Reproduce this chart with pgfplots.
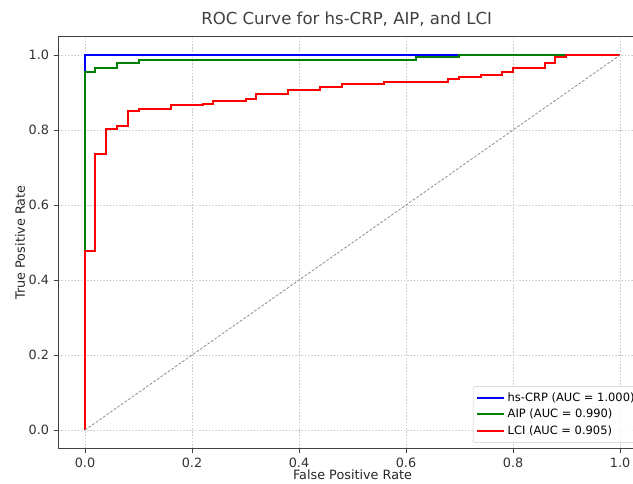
\documentclass[border=0pt]{standalone}
\usepackage{fontspec}
\setmainfont{DejaVu Sans}
\usepackage{pgfplots}
\pgfplotsset{compat=1.18}

% ROC points, one per corner (const plot: horizontal first, then up)
\newcommand{\bluepts}{(0,0) (0,1.0) (1.0,1.0)}
\newcommand{\greenpts}{(0,0) (0,0.954) (0.019,0.966) (0.059,0.979) (0.100,0.988)
  (0.619,0.994) (0.699,1.0) (1.0,1.0)}
\newcommand{\redpts}{(0,0) (0,0.477) (0.019,0.735) (0.039,0.804) (0.060,0.811)
  (0.081,0.852) (0.100,0.857) (0.160,0.866) (0.220,0.870) (0.240,0.877)
  (0.300,0.884) (0.320,0.895) (0.380,0.907) (0.440,0.915) (0.480,0.923)
  (0.559,0.928) (0.679,0.935) (0.699,0.941) (0.740,0.947) (0.780,0.954)
  (0.799,0.966) (0.859,0.979) (0.879,0.995) (0.899,1.0) (1.0,1.0)}

\begin{document}
\begin{tikzpicture}
\begin{axis}[
  at={(0,0)}, anchor=south west,
  width=441.4pt, height=309.4pt, scale only axis,
  xmin=-0.05, xmax=1.05, ymin=-0.05, ymax=1.05,
  xtick={0,0.2,0.4,0.6,0.8,1.0},
  ytick={0,0.2,0.4,0.6,0.8,1.0},
  /pgf/number format/assume math mode=true,
  xticklabel style={/pgf/number format/.cd, fixed, fixed zerofill, precision=1},
  yticklabel style={/pgf/number format/.cd, fixed, fixed zerofill, precision=1},
  tick label style={font=\fontsize{9.6}{11}\selectfont, text=black!80},
  tick align=outside, major tick length=3.4pt,
  tick style={black!75, line width=0.6pt},
  xtick pos=bottom, ytick pos=left,
  axis line style={black!75, line width=0.6pt},
  grid=major,
  grid style={black!20, line width=0.5pt, dash pattern=on 1.2pt off 1.2pt},
  title={ROC Curve for hs-CRP, AIP, and LCI},
  title style={font=\fontsize{12.4}{15}\selectfont, text=black!75,
    at={(axis description cs:0.49,1)}, anchor=base, yshift=3pt},
  xlabel={False Positive Rate},
  ylabel={True Positive Rate},
  xlabel style={font=\fontsize{9.6}{11}\selectfont, text=black!85,
    at={(axis description cs:0.5,-0.063)}, anchor=center},
  ylabel style={font=\fontsize{9.6}{11}\selectfont, text=black!85,
    at={(axis description cs:-0.065,0.5)}, anchor=center},
  legend style={at={(1,0)}, anchor=south east, xshift=-4.5pt, yshift=4.5pt,
    font=\fontsize{8.6}{10}\selectfont, draw=black!20, rounded corners=2pt,
    fill=white, fill opacity=0.8, text opacity=1,
    row sep=0.5pt, inner sep=2.5pt},
  legend cell align=left,
  legend image post style={line width=1.5pt},
  legend image code/.code={\draw[#1] (0pt,0pt) -- (20pt,0pt);},
]
\addplot[const plot, blue, line width=1.5pt] coordinates {\bluepts};
\addlegendentry{hs-CRP (AUC = 1.000)}
\addplot[const plot, green!50!black, line width=1.5pt] coordinates {\greenpts};
\addlegendentry{AIP (AUC = 0.990)}
\addplot[const plot, red, line width=1.5pt] coordinates {\redpts};
\addlegendentry{LCI (AUC = 0.905)}
\addplot[forget plot, black!45, line width=0.6pt, dash pattern=on 2pt off 1.3pt]
  coordinates {(0,0) (1,1)};
\end{axis}
\pgfresetboundingbox
\path[use as bounding box] (-43.7pt,-25.7pt) rectangle (431.05pt,336.6pt);
\end{tikzpicture}
\end{document}
